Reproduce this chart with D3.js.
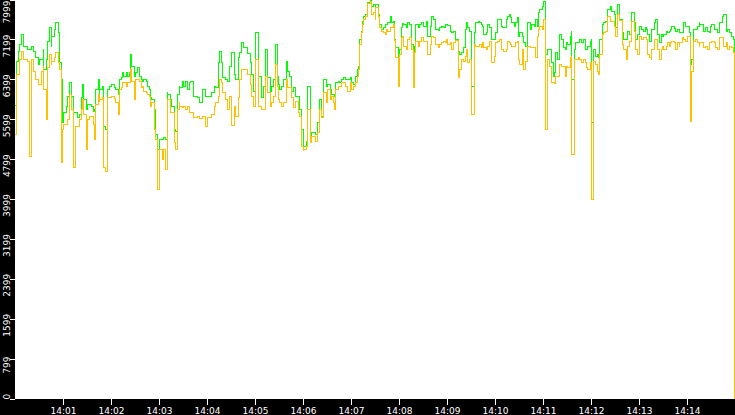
<!DOCTYPE html>
<html>
<head>
<meta charset="utf-8">
<script src="https://d3js.org/d3.v7.min.js"></script>
<style>
  html, body { margin: 0; padding: 0; background: #000; overflow: hidden; }
  svg { display: block; }
  .axis text { font-family: "DejaVu Sans", sans-serif; font-size: 9px; fill: #fff; }
  .axis line { stroke: #fff; shape-rendering: crispEdges; }
</style>
</head>
<body>
<div id="chart"></div>
<script>
// sample times, seconds after 14:00:00
var secs = [
  0,2,4,6,8,11,15,18,20,23,
  25,26,29,31,33,35,36,39,40,43,
  45,46,49,51,54,56,58,59,61,64,
  65,68,70,73,75,78,80,83,84,86,
  89,90,93,95,98,99,101,104,105,106,
  109,111,113,115,118,121,124,126,129,130,
  133,134,136,139,140,143,144,146,149,151,
  153,155,158,159,161,164,165,168,169,171,
  174,175,178,180,181,184,186,188,190,191,
  194,196,199,200,203,205,206,209,211,213,
  215,218,219,223,228,231,234,238,241,246,
  249,251,254,255,258,259,263,265,268,270,
  274,276,279,281,283,286,291,294,296,298,
  300,301,304,308,310,313,315,319,321,323,
  325,328,329,331,333,336,339,341,343,345,
  348,350,354,356,358,360,361,364,365,366,
  369,371,375,378,380,383,385,386,389,391,
  394,395,398,399,401,404,405,408,410,413,
  416,419,420,423,425,428,429,431,433,434,
  435,438,440,441,444,446,448,450,451,454,
  456,458,460,463,464,466,469,470,473,474,
  476,479,480,483,484,486,489,490,493,495,
  498,499,501,504,506,508,510,511,514,516,
  519,520,523,525,526,529,531,533,535,538,
  539,541,544,545,548,550,551,554,556,558,
  560,563,564,565,568,570,571,574,576,579,
  580,583,584,586,589,590,593,595,596,599,
  601,603,605,608,609,611,614,615,618,619,
  621,624,625,628,629,631,634,635,638,640,
  641,644,646,649,650,653,654,656,659,660,
  663,665,668,670,673,674,676,678,680,683,
  685,688,689,691,694,695,696,699,701,704,
  706,708,710,713,714,716,719,720,721,723,
  725,728,729,731,734,735,738,740,741,744,
  746,749,751,753,755,756,759,761,764,765,
  768,770,771,774,776,778,780,783,785,788,
  789,790,793,795,796,799,801,803,805,808,
  809,811,814,815,818,819,821,824,825,828,
  830,831,834,836,838,840,843,844,846,848,
  850,853,855,856,859,861,863,865,868,869,
  871,874,875,878,880,881,884,886,889,890,
  893,895,898,899
];

// green series (upper line)
var greenVals = [
  5880,6760,6960,7100,7300,7060,7000,7000,7060,6960,
  6860,6840,6700,6800,6800,7000,6600,6800,7160,7440,
  7060,7260,7400,7540,7340,6740,6400,5540,5740,5860,
  6060,6340,6060,5740,5740,5640,5700,6040,6300,6000,
  5800,5900,5900,5860,5760,5800,6200,6400,6060,6200,
  6260,5460,5400,6200,6260,6300,6240,6200,6100,6400,
  6440,6540,6460,6540,6460,6540,6900,6660,6460,6540,
  6640,6460,6400,6360,6400,6360,6260,6200,6040,6000,
  5800,5300,5000,5200,5200,5200,5240,5200,6140,6100,
  6000,5860,5400,5360,6100,6260,6240,6360,6260,6360,
  6200,6340,6360,6060,6040,5940,6200,6060,6060,6140,
  6260,6240,6740,6960,6740,6440,6400,6360,6660,6940,
  6500,6400,6840,6940,7140,7040,6920,6740,6500,6160,
  6800,7340,6460,6040,6260,7000,6440,6160,6260,6400,
  7100,6460,6300,6200,6260,6400,6760,6560,6460,6160,
  6240,6060,6060,5800,5400,5140,5060,5160,5400,6260,
  5240,5340,5300,5540,6000,5660,6000,6400,6260,6300,
  6200,6100,6100,6060,6340,6360,6340,6400,6440,6400,
  6400,6440,6340,6300,6460,6600,6660,7200,7360,7560,
  7660,7700,7860,7940,7980,7860,7900,7800,7900,7700,
  7500,7400,7440,7500,7500,7540,7660,7540,7560,7200,
  7040,6840,7000,7440,7520,7500,7440,7540,7500,7100,
  6700,7060,7500,7440,7500,7540,7500,7460,7560,7260,
  7460,7660,7600,7540,7400,7380,7440,7460,7440,7500,
  7500,7480,7360,7340,7360,7300,7200,6960,6900,6940,
  7040,7400,7540,7440,7360,7000,6260,7340,7540,7560,
  7540,7500,7460,7300,7340,7500,7440,7300,7200,7200,
  7340,7600,7600,7460,7440,7440,7600,7660,7700,7640,
  7540,7460,7540,7640,7260,7340,7260,7140,7060,7340,
  7540,7400,7500,7460,7600,7460,7740,7800,7860,7960,
  6900,7000,7000,6740,6460,6540,6940,6800,7300,7200,
  7040,7000,7140,7100,7260,7360,6400,7000,7140,7140,
  7200,7140,7200,7000,7000,7060,7160,7200,5540,7000,
  6860,6900,6840,7200,7500,7540,7560,7600,7800,7860,
  7760,7700,7440,7900,7800,7600,7340,7200,7200,7360,
  7300,7600,7740,7540,7200,7300,7460,7400,7360,7440,
  7400,7300,7160,7260,7400,7540,7600,7300,7140,7300,
  7260,7300,7360,7340,7360,7400,7460,7420,7360,7400,
  7340,7340,7340,7540,7460,7460,7340,6700,6800,7400,
  7400,7460,7540,7500,7500,7360,7440,7360,7340,7460,
  7500,7400,7400,7340,7460,7540,7660,7700,7360,7400,
  7340,7260,7200,3480
];

// orange series (lower line)
var orangeVals = [
  5300,6500,6500,6800,6960,6800,6760,4860,6800,6560,
  6540,6400,6300,6300,6560,6660,6200,5600,6640,6900,
  6700,6760,6840,6940,6740,6600,4740,5400,5500,5500,
  5600,6100,5800,4640,5460,5460,5600,5800,6000,5700,
  5000,5600,5660,5660,5500,5200,5900,6100,5960,6000,
  6040,4640,4560,6040,6040,6060,6020,5940,5700,6200,
  6240,6340,6340,6260,6340,6340,6600,6360,6000,6400,
  6400,6360,6240,6260,6160,6140,6100,6060,5860,5940,
  5400,5200,4200,4800,5000,4800,5000,4600,5760,6000,
  5740,5740,5140,5000,5800,5940,5860,5840,5860,5800,
  5860,5740,5740,5640,5660,5620,5660,5460,5640,5700,
  5860,5940,6060,6400,6340,6140,6000,5800,6060,5480,
  5860,5660,6040,6400,6600,6600,6500,6300,6060,5860,
  5940,6800,5860,5800,5800,6460,6140,5860,5940,6060,
  6700,6260,6000,5940,5860,5940,6400,6240,6240,6040,
  5840,5960,5740,5660,5060,4980,5000,5060,5360,5800,
  5140,5260,5160,5340,5800,5640,5940,6140,5940,6200,
  6000,6060,5940,5800,6200,6260,6260,6340,6340,6260,
  6160,6340,6200,6260,6340,6460,6600,7100,7340,7500,
  7600,7660,7800,7920,7960,7700,7740,7600,7840,7660,
  7440,7360,7340,7300,7400,7360,7440,7440,7500,7180,
  6840,6260,6900,7240,7260,7060,7000,7200,7240,7000,
  6240,6940,7160,7060,7160,7240,7160,7160,7160,6900,
  7100,7260,7240,7200,7100,7040,7100,7140,7160,7140,
  7200,7100,7140,7000,7140,7140,7180,6440,6600,6800,
  6760,6860,7000,6740,6800,6500,5700,7100,7060,7060,
  7100,7040,7140,7040,7000,7060,7160,6940,6740,6860,
  7140,7160,7200,7000,7000,6960,7000,7160,7140,7100,
  7060,7060,7140,7160,6800,6700,7000,6600,6760,6940,
  7060,7040,7040,7040,6840,7260,7400,7460,7400,7600,
  5400,6800,6660,6340,6340,6320,6460,6460,6700,6660,
  6660,6460,6660,6640,6840,6860,4900,6800,6800,6840,
  6800,6740,6800,6740,6640,6600,6740,6740,4000,6760,
  6700,6560,6500,6900,7300,7340,7360,7440,7660,7560,
  7560,7460,7260,7700,7640,7580,7100,7000,6800,7060,
  7160,7460,7560,7360,7000,6900,7260,7200,7240,7240,
  7200,6900,6840,6800,7000,7200,7200,7000,6800,7000,
  7060,7000,7060,7140,7060,7140,7160,7140,7000,7140,
  7060,7140,7240,7200,7160,7260,7260,5560,6560,7160,
  7200,7140,7060,7140,7140,7040,7060,7000,7140,7140,
  7160,7140,7040,7000,7200,7240,7240,7060,7140,7000,
  7060,7040,6940,0
];

// axis ticks
var xTickLabels = ["14:01","14:02","14:03","14:04","14:05","14:06","14:07",
                   "14:08","14:09","14:10","14:11","14:12","14:13","14:14"];
var yTickValues = [0,799,1599,2399,3199,3999,4799,5599,6399,7199,7999];

// svg container
var svgWidth = 735;
var svgHeight = 415;

var margin = { top: 0, right: 0, bottom: 16, left: 15 };

var width = svgWidth - margin.left - margin.right;
var height = svgHeight - margin.top - margin.bottom;

var svg = d3.select("#chart")
  .append("svg")
  .attr("width", svgWidth)
  .attr("height", svgHeight);

// black frame, white plotting area
svg.append("rect")
  .attr("width", svgWidth)
  .attr("height", svgHeight)
  .attr("fill", "#000");

var chartGroup = svg.append("g")
  .attr("transform", `translate(${margin.left}, ${margin.top})`);

chartGroup.append("rect")
  .attr("width", width)
  .attr("height", height)
  .attr("fill", "#fff");

var base = new Date(2000, 0, 1, 14, 0, 0);
var toTime = s => new Date(base.getTime() + s * 1000);

var rows = secs.map((s, i) => ({ t: toTime(s), g: greenVals[i], o: orangeVals[i] }))
  .filter(d => d.g != null && d.o != null);

// scales
var xTimeScale = d3.scaleTime()
  .domain([base, toTime(15 * 60)])
  .range([0, width]);

var yLinearScale = d3.scaleLinear()
  .domain([0, 8000])
  .range([height - 0.5, -0.5]);

// lines
var greenLine = d3.line()
  .x(d => xTimeScale(d.t))
  .y(d => yLinearScale(d.g))
  .curve(d3.curveStepAfter);

var orangeLine = d3.line()
  .x(d => xTimeScale(d.t))
  .y(d => yLinearScale(d.o))
  .curve(d3.curveStepAfter);

chartGroup.append("path")
  .datum(rows)
  .attr("d", greenLine)
  .attr("fill", "none")
  .attr("stroke", "#00ff00")
  .attr("stroke-width", 1)
  .attr("shape-rendering", "crispEdges");

chartGroup.append("path")
  .datum(rows)
  .attr("d", orangeLine)
  .attr("fill", "none")
  .attr("stroke", "#ffc000")
  .attr("stroke-width", 1)
  .attr("shape-rendering", "crispEdges");

// x axis
var parseMin = d3.timeParse("%H:%M");
var xTicks = xTickLabels.map(l => {
  var p = parseMin(l);
  return new Date(2000, 0, 1, p.getHours(), p.getMinutes(), 0);
});

var bottomAxis = d3.axisBottom(xTimeScale)
  .tickValues(xTicks)
  .tickFormat((d, i) => xTickLabels[i])
  .tickSize(6);

var xAxisG = chartGroup.append("g")
  .attr("class", "axis")
  .attr("transform", `translate(0, ${height})`)
  .call(bottomAxis);
xAxisG.select(".domain").remove();
xAxisG.selectAll("text").attr("y", 14.5).attr("dy", 0);

// y axis with rotated labels
var leftAxis = d3.axisLeft(yLinearScale)
  .tickValues(yTickValues)
  .tickFormat(d => String(d))
  .tickSize(5);

var yAxisG = chartGroup.append("g")
  .attr("class", "axis")
  .call(leftAxis);
yAxisG.select(".domain").remove();

yAxisG.selectAll(".tick text").each(function (d) {
  var t = d3.select(this);
  t.attr("x", 0).attr("dy", 0).attr("text-anchor", "middle");
  var w = this.getComputedTextLength();
  var ty = yLinearScale(d);
  var c = Math.max(w / 2, Math.min(height - w / 2, ty + 6));
  t.attr("transform", `translate(-5, ${c - ty}) rotate(-90)`);
});
</script>
</body>
</html>
